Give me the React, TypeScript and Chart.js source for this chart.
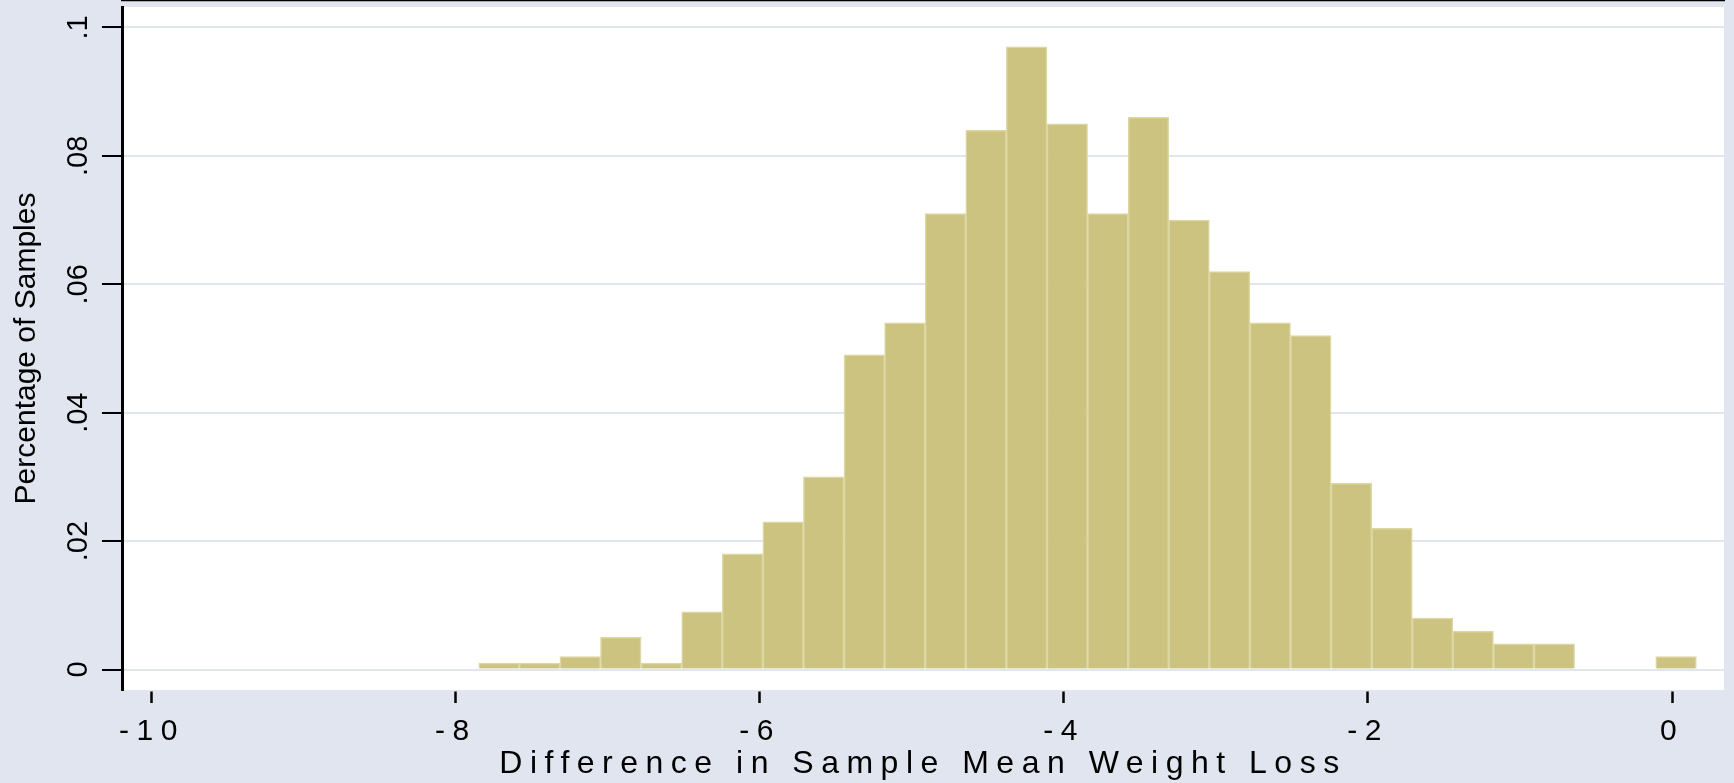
import React, { useEffect, useRef } from 'react';
import { Chart, registerables } from 'chart.js';

Chart.register(...registerables);

// Histogram bins (centres) and the fraction of samples in each bin
const binCenters = [
  -7.7165, -7.4495, -7.1825, -6.9155, -6.6485, -6.3815, -6.1145, -5.8475, -5.5805, -5.3135,
  -5.0465, -4.7795, -4.5125, -4.2455, -3.9785, -3.7115, -3.4445, -3.1775, -2.9105, -2.6435,
  -2.3765, -2.1095, -1.8425, -1.5755, -1.3085, -1.0415, -0.7745, -0.5075, -0.2405, 0.0265,
];
const fractions = [
  0.001, 0.001, 0.002, 0.005, 0.001, 0.009, 0.018, 0.023, 0.030, 0.049,
  0.054, 0.071, 0.084, 0.097, 0.085, 0.071, 0.086, 0.070, 0.062, 0.054,
  0.052, 0.029, 0.022, 0.008, 0.006, 0.004, 0.004, 0, 0, 0.002,
];

const xTickValues = [-10, -8, -6, -4, -2, 0];
const xTickLabels = ['-10', '-8', '-6', '-4', '-2', '0'];
const yTickValues = [0, 0.02, 0.04, 0.06, 0.08, 0.1];
const yTickLabels = ['0', '.02', '.04', '.06', '.08', '.1'];

const xTitle = 'Difference in Sample Mean Weight Loss';
const yTitle = 'Percentage of Samples';

const OUTER_BG = '#E0E5EF';
const GRID = '#E0E5EE';
const BAR_FILL = '#CBC37F';
const BAR_EDGE = '#DCD7A3';
const FONT = "'Liberation Sans', Arial, sans-serif";

export default function App() {
  const canvasRef = useRef<HTMLCanvasElement | null>(null);

  useEffect(() => {
    const canvas = canvasRef.current;
    if (!canvas) return;

    const stataPlugin = {
      id: 'stataLook',
      beforeDraw(chart: any) {
        const { ctx, chartArea } = chart;
        ctx.letterSpacing = '0px';
        ctx.save();
        ctx.fillStyle = OUTER_BG;
        ctx.fillRect(0, 0, chart.width, chart.height);
        ctx.fillStyle = '#FFFFFF';
        ctx.fillRect(
          chartArea.left,
          chartArea.top,
          chartArea.right - chartArea.left,
          chartArea.bottom - chartArea.top
        );
        ctx.restore();
      },
      afterDatasetsDraw(chart: any) {
        chart.ctx.letterSpacing = '7.5px';
      },
      afterDraw(chart: any) {
        chart.ctx.letterSpacing = '0px';
      },
    };

    const zeroPad = (s: any) => {
      s.paddingTop = 0;
      s.paddingBottom = 0;
      s.paddingLeft = 0;
      s.paddingRight = 0;
    };

    const chart = new Chart(canvas, {
      type: 'bar',
      data: {
        datasets: [
          {
            data: binCenters.map((x, i) => ({ x, y: fractions[i] })),
            backgroundColor: BAR_FILL,
            borderColor: BAR_EDGE,
            borderWidth: 1.5,
            borderSkipped: 'start',
            barPercentage: 1,
            categoryPercentage: 1,
          },
        ],
      },
      options: {
        animation: false,
        responsive: false,
        maintainAspectRatio: false,
        devicePixelRatio: 1,
        layout: { padding: { left: 0, top: 7, right: 10, bottom: 0 } },
        plugins: {
          legend: { display: false },
          tooltip: { enabled: false },
          title: { display: false },
        },
        scales: {
          x: {
            type: 'linear',
            bounds: 'data',
            min: -10.197,
            max: 0.342,
            offset: false,
            afterBuildTicks: (s: any) => {
              s.ticks = xTickValues.map((v) => ({ value: v }));
            },
            afterFit: (s: any) => {
              s.height = 93;
              zeroPad(s);
            },
            grid: {
              z: 1,
              offset: false,
              drawOnChartArea: false,
              drawTicks: true,
              tickLength: 13,
              tickColor: '#000000',
              tickWidth: 2.5,
            },
            border: { color: '#000000', width: 2.5 },
            ticks: {
              z: 1,
              autoSkip: false,
              minRotation: 0,
              maxRotation: 0,
              padding: 11,
              color: '#000000',
              font: { family: FONT, size: 30 },
              callback: (_v: any, i: number) => xTickLabels[i],
            },
            title: {
              display: true,
              text: xTitle,
              color: '#000000',
              font: { family: FONT, size: 32 },
              padding: { top: 0, bottom: 0 },
            },
          },
          y: {
            type: 'linear',
            bounds: 'data',
            min: -0.00319,
            max: 0.10319,
            afterBuildTicks: (s: any) => {
              s.ticks = yTickValues.map((v) => ({ value: v }));
            },
            afterFit: (s: any) => {
              s.width = 122;
              zeroPad(s);
            },
            grid: {
              color: GRID,
              lineWidth: 2,
              drawTicks: true,
              tickLength: 20,
              tickColor: '#000000',
              tickWidth: 2,
            },
            border: { color: '#000000', width: 3 },
            ticks: {
              minRotation: 90,
              maxRotation: 90,
              crossAlign: 'center',
              padding: 3,
              color: '#000000',
              font: { family: FONT, size: 29 },
              callback: (_v: any, i: number) => yTickLabels[i],
            },
            title: {
              display: true,
              text: yTitle,
              color: '#000000',
              font: { family: FONT, size: 30 },
              padding: { top: 8.5, bottom: 0 },
            },
          },
        },
      },
      plugins: [stataPlugin],
    } as any);

    return () => {
      chart.destroy();
    };
  }, []);

  return (
    <div
      style={{
        position: 'fixed',
        left: 0,
        top: 0,
        width: 1734,
        height: 783,
        background: OUTER_BG,
      }}
    >
      <canvas ref={canvasRef} width={1734} height={783} style={{ display: 'block' }} />
    </div>
  );
}
